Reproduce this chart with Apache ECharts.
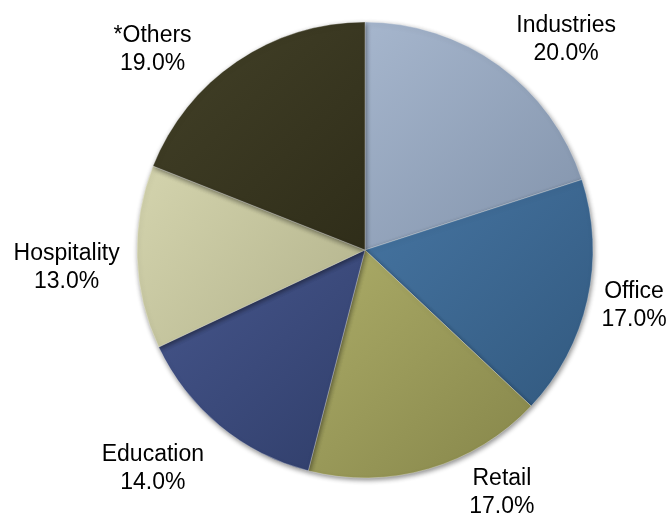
<!DOCTYPE html>
<html>
<head>
<meta charset="utf-8">
<title>Sector share</title>
<script src="https://cdn.jsdelivr.net/npm/echarts@6/dist/echarts.min.js"></script>
<style>
  html, body { margin: 0; padding: 0; background: #ffffff; }
  #chart { width: 671px; height: 516px; }
</style>
</head>
<body>
<div id="chart"></div>
<script>
// Sector names and their shares (%)
const categories = ['Industries', 'Office', 'Retail', 'Education', 'Hospitality', '*Others'];
const shares = [20, 17, 17, 14, 13, 19];

// Fill colours per sector: [lighter, darker] for a bevelled look
const sliceColors = [
  ['#a6b6cd', '#8293ab'],
  ['#4675a2', '#32597f'],
  ['#acac68', '#86864a'],
  ['#46568c', '#303e6a'],
  ['#d4d4ae', '#b2b28b'],
  ['#434128', '#2f2d19']
];

// Label anchors around the pie: [angle in degrees (screen, clockwise from +x), distance / radius]
const labelSpots = [
  [-46.3, 1.277],
  [11.7, 1.205],
  [60.6, 1.223],
  [134.1, 1.337],
  [176.7, 1.311],
  [-136.7, 1.280]
];

const CX = 365, CY = 250, R = 228;

const chart = echarts.init(document.getElementById('chart'), null, { renderer: 'canvas' });

const data = categories.map((name, i) => ({
  name: name,
  value: shares[i],
  itemStyle: {
    color: new echarts.graphic.LinearGradient(0, 0, 1, 1, [
      { offset: 0, color: sliceColors[i][0] },
      { offset: 1, color: sliceColors[i][1] }
    ])
  }
}));

chart.setOption({
  backgroundColor: '#ffffff',
  animation: false,
  series: [{
    type: 'pie',
    center: [CX, CY],
    radius: [0, R],
    startAngle: 90,
    clockwise: true,
    avoidLabelOverlap: false,
    data: data,
    itemStyle: {
      borderColor: 'rgba(255,255,255,0.3)',
      borderWidth: 1,
      shadowBlur: 5,
      shadowOffsetX: 1,
      shadowOffsetY: 2,
      shadowColor: 'rgba(0,0,0,0.45)'
    },
    label: {
      show: true,
      position: 'outside',
      formatter: p => p.name + '\n' + p.value.toFixed(1) + '%',
      fontFamily: '"Liberation Sans", Arial, sans-serif',
      fontSize: 23,
      lineHeight: 28,
      color: '#000000',
      align: 'center'
    },
    labelLine: { show: false },
    labelLayout: function (params) {
      const spot = labelSpots[params.dataIndex];
      const a = spot[0] * Math.PI / 180;
      return {
        x: CX + Math.cos(a) * R * spot[1],
        y: CY + Math.sin(a) * R * spot[1],
        align: 'center',
        verticalAlign: 'middle'
      };
    },
    emphasis: { disabled: true }
  }]
});
</script>
</body>
</html>
